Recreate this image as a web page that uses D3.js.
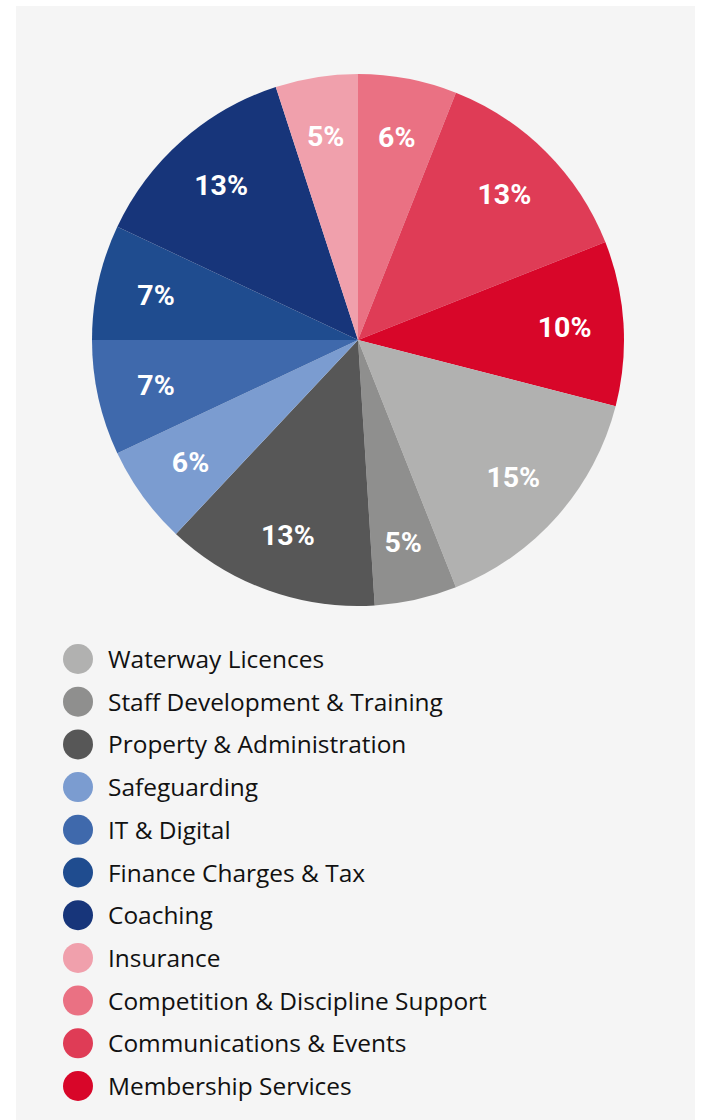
<!DOCTYPE html>
<html>
<head>
<meta charset="utf-8">
<script src="https://cdn.jsdelivr.net/npm/d3@7/dist/d3.min.js"></script>
<style>
  html, body { margin: 0; padding: 0; background: #ffffff; }
  svg { display: block; }
</style>
</head>
<body>
<script>
// Expenditure breakdown, listed clockwise from 12 o'clock
const categories = [
  "Competition & Discipline Support",
  "Communications & Events",
  "Membership Services",
  "Waterway Licences",
  "Staff Development & Training",
  "Property & Administration",
  "Safeguarding",
  "IT & Digital",
  "Finance Charges & Tax",
  "Coaching",
  "Insurance"
];
const shares = [6, 13, 10, 15, 5, 13, 6, 7, 7, 13, 5];
const colours = [
  "#ea7183", "#df3c56", "#d80629", "#b1b1b0", "#8f8f8e", "#575757",
  "#7b9cd0", "#3f69ac", "#1f4c8f", "#17357a", "#f0a0ac"
];
// Legend order (top to bottom)
const legendOrder = [
  "Waterway Licences",
  "Staff Development & Training",
  "Property & Administration",
  "Safeguarding",
  "IT & Digital",
  "Finance Charges & Tax",
  "Coaching",
  "Insurance",
  "Competition & Discipline Support",
  "Communications & Events",
  "Membership Services"
];

const W = 702, H = 1120;
const svg = d3.select("body").append("svg").attr("width", W).attr("height", H);

// light panel behind everything
svg.append("rect")
  .attr("x", 16).attr("y", 6)
  .attr("width", 679).attr("height", H - 6)
  .attr("fill", "#f5f5f5");

const data = categories.map((c, i) => ({ name: c, value: shares[i] }));
const colour = d3.scaleOrdinal().domain(categories).range(colours);

const cx = 358, cy = 340, R = 266;
const pie = d3.pie().value(d => d.value).sort(null);
const arc = d3.arc().innerRadius(0).outerRadius(R);
const labelArc = d3.arc().innerRadius(207).outerRadius(207);

const g = svg.append("g").attr("transform", `translate(${cx},${cy})`);
const arcs = pie(data);

g.selectAll("path.slice")
  .data(arcs)
  .join("path")
  .attr("class", "slice")
  .attr("d", arc)
  .attr("fill", d => colour(d.data.name));

g.selectAll("text.pct")
  .data(arcs)
  .join("text")
  .attr("class", "pct")
  .attr("transform", d => `translate(${labelArc.centroid(d)})`)
  .attr("text-anchor", "middle")
  .attr("dy", "0.36em")
  .attr("fill", "#ffffff")
  .attr("font-family", "Roboto, sans-serif")
  .attr("font-weight", 700)
  .attr("font-size", 28.5)
  .text(d => d.data.value + "%");

// legend
const rowY = d3.scalePoint().domain(legendOrder).range([659, 1086]);
const legend = svg.append("g");
const rows = legend.selectAll("g.row")
  .data(legendOrder)
  .join("g")
  .attr("class", "row")
  .attr("transform", d => `translate(0,${rowY(d)})`);

rows.append("circle")
  .attr("cx", 78).attr("cy", 0).attr("r", 15)
  .attr("fill", d => colour(d));

const labels = rows.append("text")
  .attr("x", 108)
  .attr("y", 9)
  .attr("fill", "#111111")
  .attr("font-family", "'Open Sans', Lato, sans-serif")
  .attr("font-size", 22)
  .text(d => d);

// size the legend type so the longest entry spans the legend column
const widest = d3.max(labels.nodes(), n => n.getComputedTextLength());
labels.attr("font-size", 22 * 379 / widest);
</script>
</body>
</html>
